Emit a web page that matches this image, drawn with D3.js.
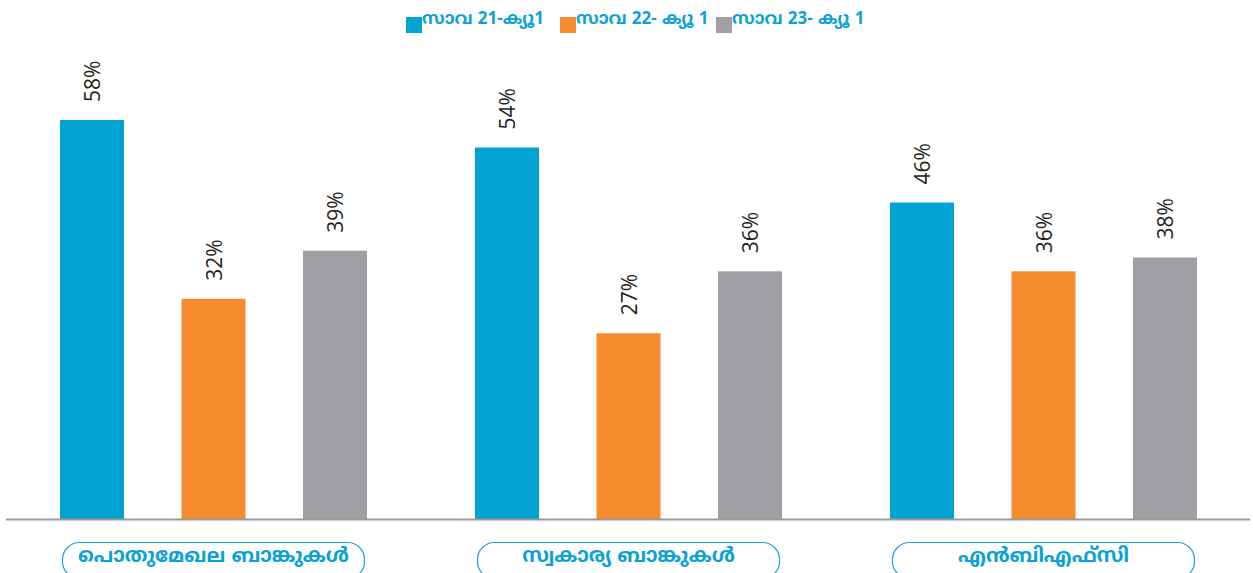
<!DOCTYPE html>
<html>
<head>
<meta charset="utf-8">
<script src="https://cdn.jsdelivr.net/npm/d3@7/dist/d3.min.js"></script>
<style>
  html, body { margin: 0; padding: 0; background: #fff; }
  svg { display: block; }
</style>
</head>
<body>
<svg id="chart" width="1253" height="573"></svg>
<script>
// Categories and series
const categories = ["പൊതുമേഖല ബാങ്കുകൾ", "സ്വകാര്യ ബാങ്കുകൾ", "എൻബിഎഫ്‌സി"];
const seriesNames = ["സാവ 21-ക്യൂ1", "സാവ 22- ക്യൂ 1", "സാവ 23- ക്യൂ 1"];
const q1FY21 = [58, 54, 46];
const q1FY22 = [32, 27, 36];
const q1FY23 = [39, 36, 38];
const seriesColors = ["#00a3d2", "#f68c2d", "#a0a0a4"];

const seriesValues = [q1FY21, q1FY22, q1FY23];
const rows = categories.map((c, i) => ({
  category: c,
  values: seriesNames.map((s, j) => ({ series: s, idx: j, value: seriesValues[j][i] }))
}));

const svg = d3.select("#chart");
const baseY = 519;

const x0 = d3.scaleBand().domain(categories).range([6, 1251]).padding(0);
const x1 = d3.scaleBand().domain(seriesNames).range([25.25, 389.75])
  .paddingInner(0.473).paddingOuter(0.2365);
const y = d3.scaleLinear().domain([0, 75]).range([baseY, 3]);
const color = d3.scaleOrdinal().domain(seriesNames).range(seriesColors);

// Bars and rotated value labels
const groups = svg.selectAll("g.group").data(rows).join("g")
  .attr("class", "group")
  .attr("transform", d => `translate(${x0(d.category)},0)`);

groups.selectAll("rect").data(d => d.values).join("rect")
  .attr("x", d => x1(d.series))
  .attr("width", x1.bandwidth())
  .attr("y", d => y(d.value))
  .attr("height", d => baseY - y(d.value))
  .attr("fill", d => color(d.series));

groups.selectAll("text.val").data(d => d.values).join("text")
  .attr("class", "val")
  .attr("transform", d => `translate(${x1(d.series) + x1.bandwidth() / 2},${y(d.value) - 18}) rotate(-90)`)
  .attr("text-anchor", "start")
  .attr("dominant-baseline", "central")
  .attr("font-family", "'Open Sans', 'Noto Sans', sans-serif")
  .attr("font-size", 21)
  .attr("fill", "#231f20")
  .text(d => d.value + "%");

// Baseline axis
svg.append("line")
  .attr("x1", 6).attr("x2", 1250)
  .attr("y1", baseY + 0.5).attr("y2", baseY + 0.5)
  .attr("stroke", "#999999").attr("stroke-width", 2);

// Category labels in rounded outlines
const pillW = 302, pillH = 36;
const cats = svg.selectAll("g.cat").data(categories).join("g")
  .attr("class", "cat")
  .attr("transform", d => `translate(${x0(d) + x0.bandwidth() / 2},0)`);

cats.append("rect")
  .attr("x", -pillW / 2).attr("y", 542.5)
  .attr("width", pillW).attr("height", pillH)
  .attr("rx", 17).attr("ry", 17)
  .attr("fill", "none")
  .attr("stroke", "#1aa3d6").attr("stroke-width", 1.2);

cats.append("text")
  .attr("x", 0).attr("y", 557)
  .attr("text-anchor", "middle")
  .attr("dominant-baseline", "central")
  .attr("font-family", "'Noto Sans Malayalam', 'Noto Sans', sans-serif")
  .attr("font-size", 20)
  .attr("font-weight", "bold")
  .attr("fill", "#0aa2d6")
  .text(d => d);

// Legend
const legendX = [406, 560, 716];
const legend = svg.selectAll("g.legend").data(seriesNames).join("g")
  .attr("class", "legend")
  .attr("transform", (d, i) => `translate(${legendX[i]},0)`);

legend.append("rect")
  .attr("x", 0).attr("y", 17)
  .attr("width", 16).attr("height", 16)
  .attr("fill", d => color(d));

legend.append("text")
  .attr("x", 16).attr("y", 20)
  .attr("dominant-baseline", "central")
  .attr("font-family", "'Noto Sans Malayalam', 'Noto Sans', sans-serif")
  .attr("font-size", 17)
  .attr("font-weight", "bold")
  .attr("fill", "#0aa2d6")
  .text(d => d);
</script>
</body>
</html>
